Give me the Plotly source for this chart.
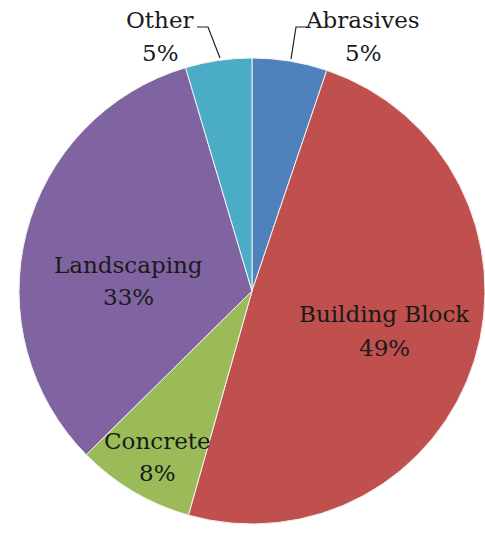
import plotly.graph_objects as go

# Share of use by category (percent)
categories = ["Abrasives", "Building Block", "Concrete", "Landscaping", "Other"]
shares = [5.2, 49.2, 8.2, 32.8, 4.6]
colors = ["#4F81BD", "#C0504D", "#9BBB59", "#8064A2", "#4BACC6"]

W, H = 485, 533

fig = go.Figure(go.Pie(
    labels=categories,
    values=shares,
    sort=False,
    direction="clockwise",
    rotation=0,
    marker=dict(colors=colors, line=dict(color="#F2F2F2", width=1)),
    textinfo="none",
    hoverinfo="label+percent",
    domain=dict(x=[19 / W, 1.0], y=[1 - 526 / H, 1 - 56 / H]),
    showlegend=False,
))

total = sum(shares)
pct = {c: f"{round(v / total * 100):d}%" for c, v in zip(categories, shares)}

# label positions in pixels: (x of name, y of name, x of percent, y of percent)
label_pos = {
    "Abrasives": (362, 19, 363, 52),
    "Building Block": (384, 313, 384, 347),
    "Concrete": (157, 440, 157, 472),
    "Landscaping": (128, 264, 128, 296),
    "Other": (160, 19, 160, 52),
}

font = dict(family="DejaVu Serif", size=23, color="#1A1A1A")
for c in categories:
    nx, ny, px, py = label_pos[c]
    for txt, x, y in ((c, nx, ny), (pct[c], px, py)):
        fig.add_annotation(
            x=x / W, y=1 - (y + 1) / H, xref="paper", yref="paper",
            text=txt, showarrow=False, font=font,
            xanchor="center", yanchor="middle", align="center",
        )

# leader lines for the two small outside labels
leaders = [
    [(197, 27), (208, 27), (220, 58)],
    [(307, 27), (296, 27), (291, 59)],
]
for pts in leaders:
    path = "M " + " L ".join(f"{x / W} {1 - y / H}" for x, y in pts)
    fig.add_shape(type="path", path=path, xref="paper", yref="paper",
                  line=dict(color="#1F1F1F", width=1.2))

fig.update_layout(
    width=W, height=H,
    margin=dict(l=0, r=0, t=0, b=0),
    paper_bgcolor="white",
    plot_bgcolor="white",
)

fig.write_html("out.html")
